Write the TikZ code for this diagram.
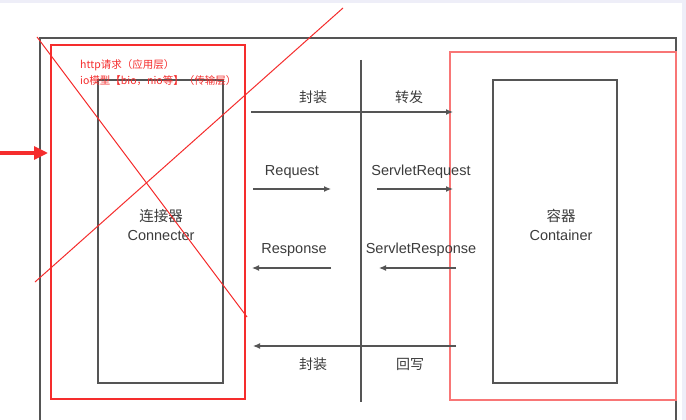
\documentclass[tikz,border=0pt]{standalone}
\usepackage{fontspec}
\setmainfont{Liberation Sans}
\newfontfamily\cjk{Noto Sans CJK SC}
\usepackage{tikz}
\usetikzlibrary{arrows.meta,positioning}
\definecolor{boxgray}{RGB}{85,85,85}
\definecolor{markred}{RGB}{245,45,45}
\definecolor{pagebg}{RGB}{238,238,248}
\definecolor{labelgray}{RGB}{60,60,60}
\tikzset{
  box/.style={rectangle,draw=boxgray,line width=1.4pt,inner sep=0pt},
  redbox/.style={rectangle,draw=markred,line width=1.4pt,inner sep=0pt},
  flow/.style={-{Latex[length=7pt,width=6pt]},line width=1.2pt,draw=boxgray},
  lbl/.style={font=\fontsize{14.5}{19}\selectfont,text=labelgray,inner sep=0pt},
  cjklbl/.style={lbl,font=\cjk\fontsize{14}{19}\selectfont},
  redtext/.style={font=\cjk\fontsize{10.5}{12}\selectfont,text=markred,inner sep=0pt,anchor=west}
}
\begin{document}
\begin{tikzpicture}[
  x=1pt,y=-1pt,
  cross/.style={line width=1pt,draw=markred},
  bigarr/.style={-{Triangle[length=14pt,width=13pt]},line width=3.2pt,draw=markred}
]
  \useasboundingbox (0,0) rectangle (686,420);
  \fill[pagebg] (0,0) rectangle (686,420);
  \fill[white] (0,3) rectangle (682,420);

  % outer frame, open at the bottom
  \draw[boxgray,line width=1.4pt] (40,421) |- (676,38) -- (676,421);

  % connector side
  \node[redbox,minimum width=194pt,minimum height=354pt] (connwrap) at (148,222) {};
  \node[box,minimum width=125pt,minimum height=303pt] (conn) at (160.5,231.5) {};
  \node[lbl,align=center] (connlbl) at (161,225) {{\cjk 连接器}\\Connecter};

  \node[redtext] (http) at (80,65) {http请求（应用层）};
  \node[redtext] (iomod) at (80,81) {io模型【bio，nio等】（传输层）};

  % container side
  \node[redbox,draw=markred!65,minimum width=226pt,minimum height=348pt] (contwrap) at (563,226) {};
  \node[box,minimum width=124pt,minimum height=303pt] (cont) at (555,231.5) {};
  \node[lbl,align=center] (contlbl) at (561,225) {{\cjk 容器}\\Container};

  % middle divider
  \coordinate (divtop) at (361,60);
  \coordinate (divbot) at (361,402);
  \draw[boxgray,line width=1.2pt] (divtop) -- (divbot);

  % arrows
  \coordinate (wrapin) at (251,112);
  \coordinate (wrapout) at (453,112);
  \draw[flow] (wrapin) -- (wrapout);
  \node[cjklbl] (wrap1) at (313,97) {封装};
  \node[cjklbl] (fwd) at (409,97) {转发};

  \coordinate (reqa) at (253,189);
  \coordinate (reqb) at (331,189);
  \draw[flow] (reqa) -- (reqb);
  \node[lbl] (req) at (292,172) {Request};

  \coordinate (sreqa) at (377,189);
  \coordinate (sreqb) at (453,189);
  \draw[flow] (sreqa) -- (sreqb);
  \node[lbl] (sreq) at (421,172) {ServletRequest};

  \coordinate (respa) at (331,268);
  \coordinate (respb) at (252,268);
  \draw[flow] (respa) -- (respb);
  \node[lbl] (resp) at (294,250) {Response};

  \coordinate (srespa) at (456,268);
  \coordinate (srespb) at (379,268);
  \draw[flow] (srespa) -- (srespb);
  \node[lbl] (sresp) at (421,250) {ServletResponse};

  \coordinate (backa) at (456,346);
  \coordinate (backb) at (253,346);
  \draw[flow] (backa) -- (backb);
  \node[cjklbl] (wrap2) at (313,364) {封装};
  \node[cjklbl] (wback) at (410,364) {回写};

  % red marks
  \coordinate (xa) at (37,37);
  \coordinate (xb) at (247,317);
  \coordinate (xc) at (343,8);
  \coordinate (xd) at (35,282);
  \draw[cross] (xa) -- (xb);
  \draw[cross] (xc) -- (xd);

  \coordinate (inarr) at (0,153);
  \coordinate (inarrtip) at (48,153);
  \draw[bigarr] (inarr) -- (inarrtip);
\end{tikzpicture}
\end{document}
